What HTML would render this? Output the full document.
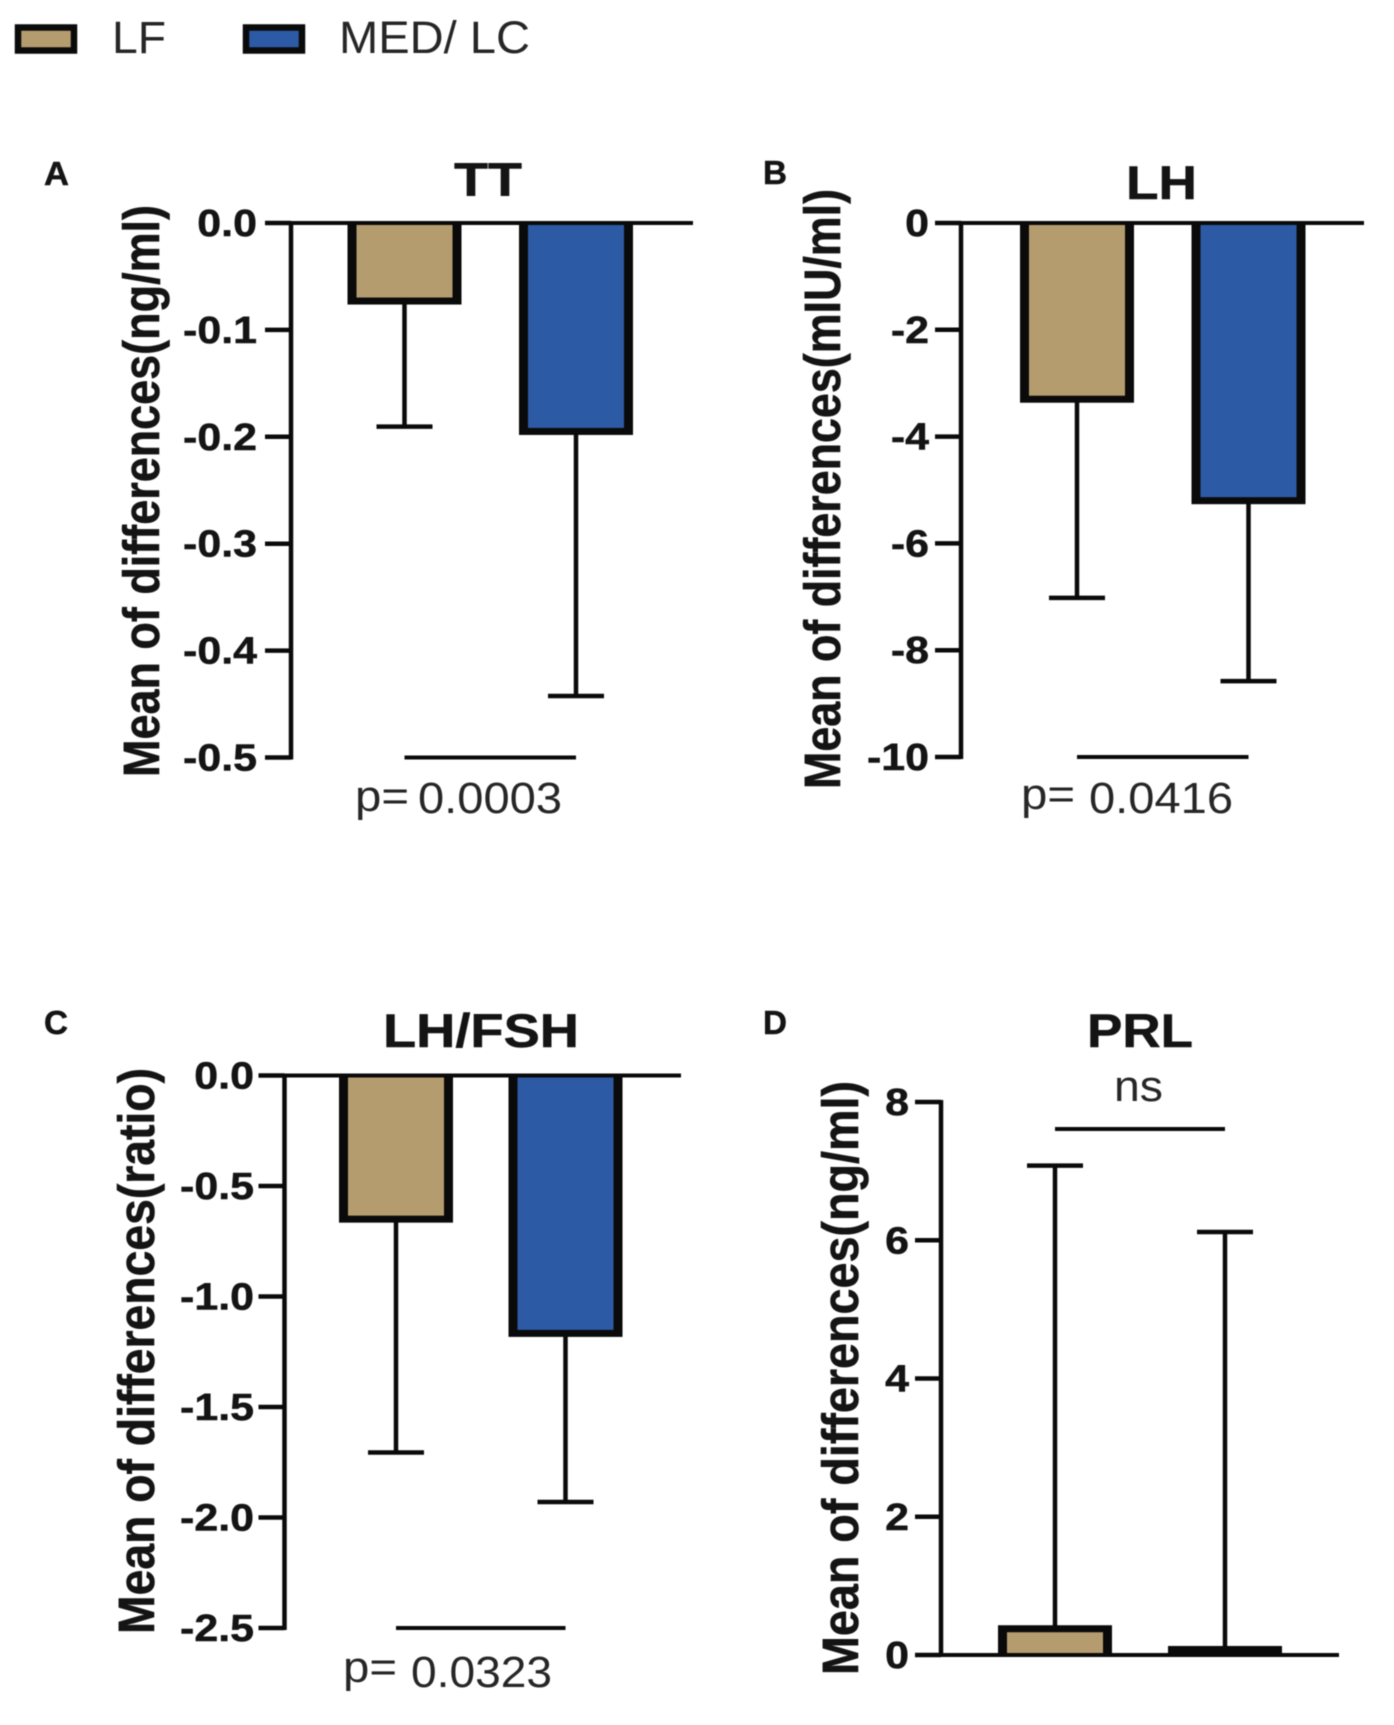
<!DOCTYPE html>
<html lang="en">
<head>
<meta charset="utf-8">
<title>Mean of differences by diet group</title>
<style>
html,body{margin:0;padding:0;background:#fff;width:1394px;height:1725px;overflow:hidden}
svg{display:block;filter:blur(0.5px)}
text{font-family:"Liberation Sans",sans-serif;fill:#141414}
.b{font-weight:700;stroke:#141414;stroke-width:.5px}
.r{fill:#262626}
</style>
</head>
<body>
<svg id="figure" xmlns="http://www.w3.org/2000/svg" width="1394" height="1725" viewBox="0 0 1394 1725">
<rect x="0" y="0" width="1394" height="1725" fill="#ffffff"/>
<g>
<g>
<rect x="18" y="27.5" width="56" height="23" fill="#B59C6F" stroke="#0a0a0a" stroke-width="6.5"/>
<text x="112" y="53" font-size="45" class="r" textLength="54" lengthAdjust="spacingAndGlyphs">LF</text>
</g>
<g>
<rect x="246" y="27.5" width="56" height="23" fill="#2D5AA5" stroke="#0a0a0a" stroke-width="6.5"/>
<text x="339" y="53" font-size="45" class="r" textLength="191" lengthAdjust="spacingAndGlyphs">MED/ LC</text>
</g>
</g>
<text x="44" y="185" font-size="33" class="b" textLength="25" lengthAdjust="spacingAndGlyphs">A</text>
<text x="763" y="184" font-size="33" class="b" textLength="24" lengthAdjust="spacingAndGlyphs">B</text>
<text x="44" y="1034" font-size="33" class="b" textLength="24" lengthAdjust="spacingAndGlyphs">C</text>
<text x="763" y="1034" font-size="33" class="b" textLength="24" lengthAdjust="spacingAndGlyphs">D</text>
<text x="454" y="196" font-size="47" class="b" textLength="68" lengthAdjust="spacingAndGlyphs">TT</text>
<text x="1126" y="199" font-size="47" class="b" textLength="71" lengthAdjust="spacingAndGlyphs">LH</text>
<text x="383" y="1047" font-size="47" class="b" textLength="196" lengthAdjust="spacingAndGlyphs">LH/FSH</text>
<text x="1087" y="1047" font-size="47" class="b" textLength="106" lengthAdjust="spacingAndGlyphs">PRL</text>
<text transform="translate(159,777) rotate(-90) scale(1,1.13)" font-size="45" class="b" textLength="572" lengthAdjust="spacingAndGlyphs">Mean of differences(ng/ml)</text>
<text transform="translate(840,789) rotate(-90) scale(1,1.13)" font-size="45" class="b" textLength="600" lengthAdjust="spacingAndGlyphs">Mean of differences(mIU/ml)</text>
<text transform="translate(154,1634) rotate(-90) scale(1,1.13)" font-size="45" class="b" textLength="566" lengthAdjust="spacingAndGlyphs">Mean of differences(ratio)</text>
<text transform="translate(858,1675) rotate(-90) scale(1,1.13)" font-size="45" class="b" textLength="594" lengthAdjust="spacingAndGlyphs">Mean of differences(ng/ml)</text>
<text x="355" y="811" font-size="44" class="r" textLength="54" lengthAdjust="spacingAndGlyphs">p=</text>
<text x="418" y="813" font-size="44" class="r" textLength="144" lengthAdjust="spacingAndGlyphs">0.0003</text>
<text x="1021" y="809" font-size="44" class="r" textLength="54" lengthAdjust="spacingAndGlyphs">p=</text>
<text x="1089" y="813" font-size="44" class="r" textLength="144" lengthAdjust="spacingAndGlyphs">0.0416</text>
<text x="343" y="1682" font-size="44" class="r" textLength="54" lengthAdjust="spacingAndGlyphs">p=</text>
<text x="411" y="1687" font-size="44" class="r" textLength="141" lengthAdjust="spacingAndGlyphs">0.0323</text>
<text x="1114" y="1101" font-size="44" class="r" textLength="49" lengthAdjust="spacingAndGlyphs">ns</text>
<g id="marks"></g>
</svg>
<script>
const categories = ['LF', 'MED/ LC'];
const ttMeans = [-0.073, -0.195];
const ttErrors = [-0.1905, -0.4425];
const ttTickValues = [0, -0.1, -0.2, -0.3, -0.4, -0.5];
const ttTickLabels = ['0.0', '-0.1', '-0.2', '-0.3', '-0.4', '-0.5'];
const lhMeans = [-3.3, -5.2];
const lhErrors = [-7.02, -8.58];
const lhTickValues = [0, -2, -4, -6, -8, -10];
const lhTickLabels = ['0', '-2', '-4', '-6', '-8', '-10'];
const ratioMeans = [-0.65, -1.167];
const ratioErrors = [-1.706, -1.93];
const ratioTickValues = [0, -0.5, -1, -1.5, -2, -2.5];
const ratioTickLabels = ['0.0', '-0.5', '-1.0', '-1.5', '-2.0', '-2.5'];
const prlMeans = [0.38, 0.08];
const prlErrors = [7.08, 6.12];
const prlTickValues = [0, 2, 4, 6, 8];
const prlTickLabels = ['0', '2', '4', '6', '8'];

const fills = ['#B59C6F', '#2D5AA5'];
const NS = 'http://www.w3.org/2000/svg';
const root = document.getElementById('marks');

const panels = [
  {id: 'tt', means: ttMeans, errors: ttErrors, ticks: ttTickValues, labels: ttTickLabels, axisX: 291, topV: 0, botV: -0.5, topY: 223, botY: 757.5, first: 404.5, step: 171.5, right: 693, labelEnd: 257, sigY: 757.5},
  {id: 'lh', means: lhMeans, errors: lhErrors, ticks: lhTickValues, labels: lhTickLabels, axisX: 961, topV: 0, botV: -10, topY: 223, botY: 757, first: 1077, step: 171.5, right: 1364, labelEnd: 929, sigY: 757},
  {id: 'lh-fsh', means: ratioMeans, errors: ratioErrors, ticks: ratioTickValues, labels: ratioTickLabels, axisX: 284.5, topV: 0, botV: -2.5, topY: 1075.5, botY: 1628, first: 396, step: 169.5, right: 681, labelEnd: 254, sigY: 1628},
  {id: 'prl', means: prlMeans, errors: prlErrors, ticks: prlTickValues, labels: prlTickLabels, axisX: 941, topV: 8, botV: 0, topY: 1102, botY: 1655, first: 1055, step: 170, right: 1339, labelEnd: 909, sigY: 1129}
];

function make(tag, attrs, parent) {
  const el = document.createElementNS(NS, tag);
  for (const k in attrs) el.setAttribute(k, attrs[k]);
  parent.appendChild(el);
  return el;
}

panels.forEach(function (p) {
  const group = make('g', {}, root);
  
  
  const y = function (v) { return p.topY + (p.topV - v) / (p.topV - p.botV) * (p.botY - p.topY); };
  const x = function (i) { return p.first + i * p.step; };
  const zero = y(0);
  const ink = '#0a0a0a';
  const halfW = 57;
  const side = 9;
  const edge = 3.5;

  categories.forEach(function (cat, i) {
    const slug = cat === 'LF' ? 'lf' : 'med-lc';
    const cx = x(i);
    const ym = y(p.means[i]);
    const ye = y(p.errors[i]);
    const stem = make('line', {x1: cx, x2: cx, y1: ym, y2: ye, stroke: ink, 'stroke-width': 4.5}, group);
    
    
    const cap = make('line', {x1: cx - 28, x2: cx + 28, y1: ye, y2: ye, stroke: ink, 'stroke-width': 4.5}, group);
    
    
    const dir = ym > zero ? 1 : -1;
    const outerEnd = ym + dir * edge;
    const outer = make('rect', {x: cx - halfW, width: halfW * 2, y: Math.min(zero, outerEnd), height: Math.abs(outerEnd - zero), fill: ink}, group);
    
    
    const innerEnd = ym - dir * edge;
    const innerH = Math.max(0, (innerEnd - zero) * dir);
    const inner = make('rect', {x: cx - halfW + side, width: (halfW - side) * 2, y: Math.min(zero, innerEnd), height: innerH, fill: fills[i]}, group);
    
    
  });

  const axis = make('line', {x1: p.axisX, x2: p.axisX, y1: p.topY - 2, y2: p.botY + 2, stroke: ink, 'stroke-width': 4.5}, group);
  
  
  const base = make('line', {x1: p.axisX - 26, x2: p.right, y1: zero, y2: zero, stroke: ink, 'stroke-width': 4}, group);
  
  

  p.ticks.forEach(function (t, i) {
    const ty = y(t);
    const tick = make('line', {x1: p.axisX - 26, x2: p.axisX, y1: ty, y2: ty, stroke: ink, 'stroke-width': 4.5}, group);
    
    
    const lab = make('text', {transform: 'translate(' + p.labelEnd + ',' + (ty + 13) + ') scale(1.13,1)', 'font-size': 38, 'text-anchor': 'end', class: 'b'}, group);
    lab.textContent = p.labels[i];
    
    
  });

  const sig = make('line', {x1: x(0), x2: x(1), y1: p.sigY, y2: p.sigY, stroke: ink, 'stroke-width': 4}, group);
  
  
});
</script>
</body>
</html>
